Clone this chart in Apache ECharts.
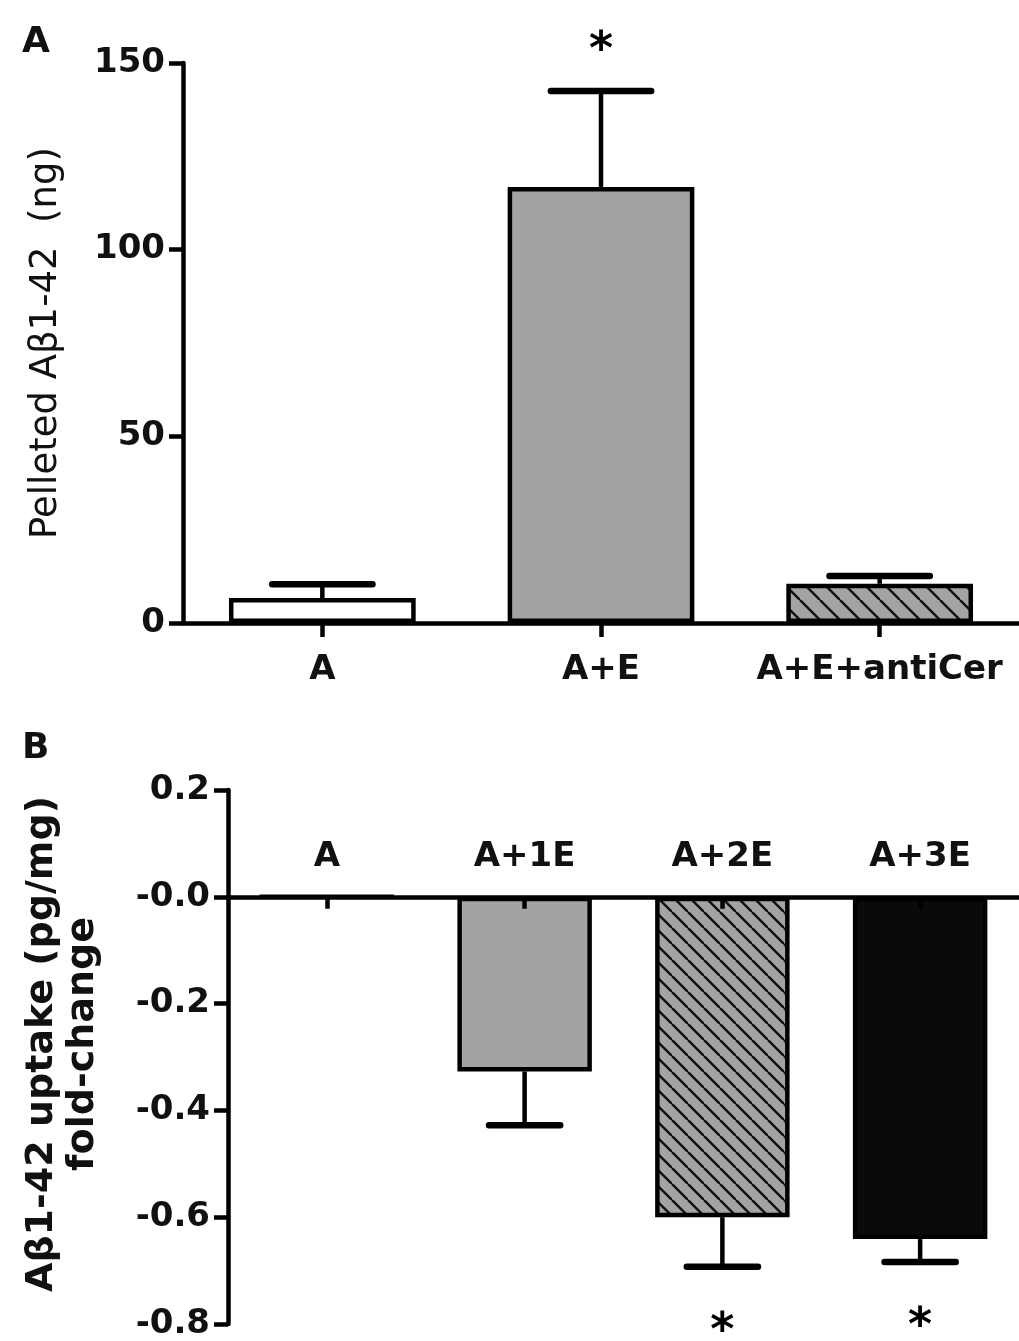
<!DOCTYPE html>
<html>
<head>
<meta charset="utf-8">
<script src="https://cdn.jsdelivr.net/npm/echarts@6/dist/echarts.min.js"></script>
<style>
  html, body { margin: 0; padding: 0; background: #fff; }
  #container { width: 1019px; height: 1341px; }
</style>
</head>
<body>
<div id="container"></div>
<script>
// panel A - pelleted Abeta (ng)
var catsA = ['A', 'A+E', 'A+E+antiCer'];
var meansA = [6.7, 116.8, 10.5];
var semA = [3.7, 25.7, 2.1];
var sigA = [false, true, false];
var ticksA = [0, 50, 100, 150];

// panel B - uptake fold-change
var catsB = ['A', 'A+1E', 'A+2E', 'A+3E'];
var meansB = [0, -0.327, -0.600, -0.641];
var semB = [0, 0.101, 0.093, 0.043];
var sigB = [false, false, true, true];
var ticksB = [-0.8, -0.6, -0.4, -0.2, 0, 0.2];

var FONT = 'DejaVu Sans';

// diagonal hatch on grey
function hatch(size) {
    var c = document.createElement('canvas');
    c.width = size; c.height = size;
    var ctx = c.getContext('2d');
    ctx.fillStyle = '#a3a3a3';
    ctx.fillRect(0, 0, size, size);
    ctx.strokeStyle = '#111';
    ctx.lineWidth = 2.4;
    for (var k = -1; k <= 1; k++) {
        ctx.beginPath();
        ctx.moveTo(k * size, 0);
        ctx.lineTo(k * size + size, size);
        ctx.stroke();
    }
    return { image: c, repeat: 'repeat' };
}

var fillsA = ['#ffffff', '#a3a3a3', hatch(20)];
var fillsB = ['#ffffff', '#a3a3a3', hatch(16), '#0a0a0a'];

function barData(means, fills) {
    return means.map(function (v, i) {
        return { value: v, itemStyle: { color: fills[i] } };
    });
}

// error bars (one-sided) + significance stars
function errSeries(xi, means, sem, sig, dir, starGap) {
    return {
        type: 'custom',
        xAxisIndex: xi, yAxisIndex: xi,
        z: 4,
        data: means.map(function (m, i) { return [i, m, sem[i]]; }),
        renderItem: function (params, api) {
            var i = params.dataIndex;
            var e = api.value(2);
            var p0 = api.coord([api.value(0), api.value(1)]);
            var p1 = api.coord([api.value(0), api.value(1) + dir * e]);
            var half = api.size([1, 0])[0] * 0.18;
            var kids = [];
            if (e > 0) {
                kids.push({ type: 'line', shape: { x1: p0[0], y1: p0[1], x2: p1[0], y2: p1[1] },
                    style: { stroke: '#000', lineWidth: 4.5 } });
                kids.push({ type: 'line', shape: { x1: p1[0] - half, y1: p1[1], x2: p1[0] + half, y2: p1[1] },
                    style: { stroke: '#000', lineWidth: 6.5, lineCap: 'round' } });
            }
            if (sig[i]) {
                kids.push({ type: 'text', x: p1[0], y: p1[1] + starGap,
                    style: { text: '*', fill: '#000', fontSize: 46, fontWeight: 'bold', fontFamily: FONT,
                        align: 'center', verticalAlign: 'middle' } });
            }
            return { type: 'group', children: kids };
        }
    };
}

var lbl = { color: '#111', fontSize: 34, fontWeight: 'bold', fontFamily: FONT, interval: 0 };
var axLine = { show: true, onZero: true, lineStyle: { color: '#000', width: 4.5 } };
var axTick = { show: true, length: 14, lineStyle: { color: '#000', width: 4.5 } };

var option = {
    backgroundColor: '#fff',
    animation: false,
    graphic: [
        { type: 'text', left: 22, top: 25, style: { text: 'A', fontSize: 36, fontWeight: 'bold', fontFamily: FONT, fill: '#111' } },
        { type: 'text', left: 22, top: 731, style: { text: 'B', fontSize: 36, fontWeight: 'bold', fontFamily: FONT, fill: '#111' } }
    ],
    grid: [
        { left: 183, top: 63, width: 836, height: 560 },
        { left: 228, top: 790, width: 800, height: 538 }
    ],
    xAxis: [
        {
            type: 'category', gridIndex: 0, data: catsA,
            axisLine: axLine,
            axisTick: { show: true, length: 14, alignWithLabel: true, lineStyle: { color: '#000', width: 4.5 } },
            axisLabel: Object.assign({ margin: 30 }, lbl),
            z: 5
        },
        {
            // labels sit above the zero line, ticks hang below it
            type: 'category', gridIndex: 1, data: catsB, position: 'top',
            axisLine: axLine,
            axisTick: { show: true, inside: true, length: 12, alignWithLabel: true, lineStyle: { color: '#000', width: 4.5 } },
            axisLabel: Object.assign({ margin: -84 }, lbl),
            z: 5
        }
    ],
    yAxis: [
        {
            type: 'value', gridIndex: 0,
            min: ticksA[0], max: ticksA[ticksA.length - 1], interval: ticksA[1] - ticksA[0],
            axisLine: axLine, axisTick: axTick, splitLine: { show: false },
            axisLabel: Object.assign({ margin: 18 }, lbl),
            name: 'Pelleted A\u03b21-42  (ng)',
            nameLocation: 'middle', nameRotate: 90, nameGap: 118,
            nameTextStyle: { color: '#111', fontSize: 37, fontFamily: FONT }
        },
        {
            type: 'value', gridIndex: 1,
            min: ticksB[0], max: ticksB[ticksB.length - 1], interval: 0.2,
            axisLine: axLine, axisTick: axTick, splitLine: { show: false },
            axisLabel: Object.assign({
                margin: 18,
                formatter: function (v) { return Math.abs(v) < 1e-9 ? '-0.0' : v.toFixed(1); }
            }, lbl),
            name: 'A\u03b21-42 uptake (pg/mg)\nfold-change',
            nameLocation: 'middle', nameRotate: 90, nameGap: 124,
            nameTextStyle: { color: '#111', fontSize: 38, fontWeight: 'bold', fontFamily: FONT, lineHeight: 41, padding: [0, 0, 0, 26] }
        }
    ],
    series: [
        {
            type: 'bar', xAxisIndex: 0, yAxisIndex: 0, barWidth: '67%',
            itemStyle: { borderColor: '#000', borderWidth: 4.5 },
            data: barData(meansA, fillsA), z: 2
        },
        errSeries(0, meansA, semA, sigA, 1, -39),
        {
            type: 'bar', xAxisIndex: 1, yAxisIndex: 1, barWidth: '68%',
            itemStyle: { borderColor: '#000', borderWidth: 4.5 },
            data: barData(meansB, fillsB), z: 2
        },
        errSeries(1, meansB, semB, sigB, -1, 66)
    ]
};

var myChart = echarts.init(document.getElementById('container'));
myChart.setOption(option);
window.addEventListener('resize', function () { myChart.resize(); });
</script>
</body>
</html>
